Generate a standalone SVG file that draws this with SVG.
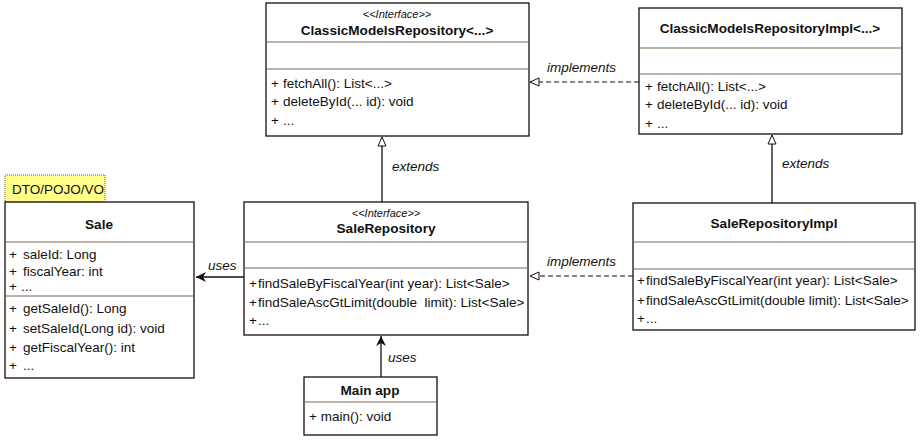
<svg xmlns="http://www.w3.org/2000/svg" width="921" height="441" viewBox="0 0 921 441">
<style>
.box{fill:#fff;stroke:#1a0d0d;stroke-width:1.3}
.div{stroke:#7d6650;stroke-width:1.2}
text{font-family:"Liberation Sans",Arial,sans-serif;fill:#111}
.t{font-size:13.6px;font-weight:bold;text-anchor:middle}
.st{font-size:11px;font-style:italic;text-anchor:middle}
.m{font-size:13.5px}
.lbl{font-size:13.5px;font-style:italic}
.ln{stroke:#1a0d0d;stroke-width:1.3;fill:none}
.dash{stroke:#1a0d0d;stroke-width:1.1;fill:none;stroke-dasharray:5,3}
</style>
<defs>
<marker id="gen" markerWidth="12" markerHeight="12" refX="10" refY="5" orient="auto" markerUnits="userSpaceOnUse">
<path d="M1,1 L10,5 L1,9 Z" fill="#fff" stroke="#1a0d0d" stroke-width="1"/>
</marker>
<marker id="use" markerWidth="12" markerHeight="12" refX="10" refY="5" orient="auto" markerUnits="userSpaceOnUse">
<path d="M0,0 L10,5 L0,10 L3,5 Z" fill="#1a0d0d"/>
</marker>
</defs>

<g id="connectors">
<path class="dash" d="M639,82 L530,82" marker-end="url(#gen)"/>
<text class="lbl" x="547" y="72">implements</text>
<path class="ln" d="M382,202 L382,137" marker-end="url(#gen)"/>
<text class="lbl" x="392" y="171">extends</text>
<path class="ln" d="M772,203 L772,135" marker-end="url(#gen)"/>
<text class="lbl" x="782" y="168">extends</text>
<path class="dash" d="M633,276 L530,276" marker-end="url(#gen)"/>
<text class="lbl" x="547" y="266">implements</text>
<path class="ln" d="M244,277 L196,277" marker-end="url(#use)"/>
<text class="lbl" x="208" y="270">uses</text>
<path class="ln" d="M381,377 L381,336" marker-end="url(#use)"/>
<text class="lbl" x="388" y="362">uses</text>
</g>

<g id="ClassicModelsRepository">
<rect class="box" x="266" y="3" width="263" height="133"/>
<text class="st" x="397" y="18">&lt;&lt;Interface&gt;&gt;</text>
<text class="t" x="397" y="35">ClassicModelsRepository&lt;...&gt;</text>
<line class="div" x1="266" y1="42" x2="529" y2="42"/>
<line class="div" x1="266" y1="69" x2="529" y2="69"/>
<text class="m" x="271" y="88">+</text><text class="m" x="283" y="88">fetchAll(): List&lt;...&gt;</text>
<text class="m" x="271" y="106">+</text><text class="m" x="283" y="106">deleteById(... id): void</text>
<text class="m" x="271" y="125">+</text><text class="m" x="283" y="125">...</text>
</g>

<g id="ClassicModelsRepositoryImpl">
<rect class="box" x="639" y="8" width="263" height="126"/>
<text class="t" x="770" y="33">ClassicModelsRepositoryImpl&lt;...&gt;</text>
<line class="div" x1="639" y1="48" x2="902" y2="48"/>
<line class="div" x1="639" y1="74" x2="902" y2="74"/>
<text class="m" x="645" y="91">+</text><text class="m" x="657" y="91">fetchAll(): List&lt;...&gt;</text>
<text class="m" x="645" y="109">+</text><text class="m" x="657" y="109">deleteById(... id): void</text>
<text class="m" x="645" y="128">+</text><text class="m" x="657" y="128">...</text>
</g>

<g id="DTO">
<rect x="5" y="175" width="100" height="27" fill="#ffff8a" stroke="#6a5a40" stroke-width="1" stroke-dasharray="1,1"/>
<text class="m" x="12" y="194">DTO/POJO/VO</text>
</g>

<g id="Sale">
<rect class="box" x="5" y="202" width="189" height="176"/>
<text class="t" x="99" y="229">Sale</text>
<line class="div" x1="5" y1="242" x2="194" y2="242"/>
<line class="div" x1="5" y1="296" x2="194" y2="296"/>
<text class="m" x="9" y="259">+</text><text class="m" x="23" y="259">saleId: Long</text>
<text class="m" x="9" y="276">+</text><text class="m" x="23" y="276">fiscalYear: int</text>
<text class="m" x="9" y="291">+</text><text class="m" x="21" y="291">...</text>
<text class="m" x="9" y="313">+</text><text class="m" x="23" y="313">getSaleId(): Long</text>
<text class="m" x="9" y="333">+</text><text class="m" x="23" y="333">setSaleId(Long id): void</text>
<text class="m" x="9" y="352">+</text><text class="m" x="23" y="352">getFiscalYear(): int</text>
<text class="m" x="9" y="370">+</text><text class="m" x="23" y="370">...</text>
</g>

<g id="SaleRepository">
<rect class="box" x="244" y="202" width="284" height="133"/>
<text class="st" x="386" y="217">&lt;&lt;Interface&gt;&gt;</text>
<text class="t" x="386" y="233">SaleRepository</text>
<line class="div" x1="244" y1="242" x2="528" y2="242"/>
<line class="div" x1="244" y1="268" x2="528" y2="268"/>
<text class="m" x="249" y="288">+</text><text class="m" x="258" y="288">findSaleByFiscalYear(int year): List&lt;Sale&gt;</text>
<text class="m" x="249" y="307">+</text><text class="m" x="258" y="307">findSaleAscGtLimit(double&#160; limit): List&lt;Sale&gt;</text>
<text class="m" x="249" y="325">+</text><text class="m" x="258" y="325">...</text>
</g>

<g id="SaleRepositoryImpl">
<rect class="box" x="633" y="203" width="282" height="127"/>
<text class="t" x="774" y="228">SaleRepositoryImpl</text>
<line class="div" x1="633" y1="242" x2="915" y2="242"/>
<line class="div" x1="633" y1="269" x2="915" y2="269"/>
<text class="m" x="637" y="285">+</text><text class="m" x="646" y="285">findSaleByFiscalYear(int year): List&lt;Sale&gt;</text>
<text class="m" x="637" y="305">+</text><text class="m" x="646" y="305">findSaleAscGtLimit(double limit): List&lt;Sale&gt;</text>
<text class="m" x="637" y="323">+</text><text class="m" x="646" y="323">...</text>
</g>

<g id="MainApp">
<rect class="box" x="304" y="377" width="133" height="58"/>
<text class="t" x="370" y="395">Main app</text>
<line class="div" x1="304" y1="402" x2="437" y2="402"/>
<text class="m" x="309" y="421">+ main(): void</text>
</g>
</svg>
